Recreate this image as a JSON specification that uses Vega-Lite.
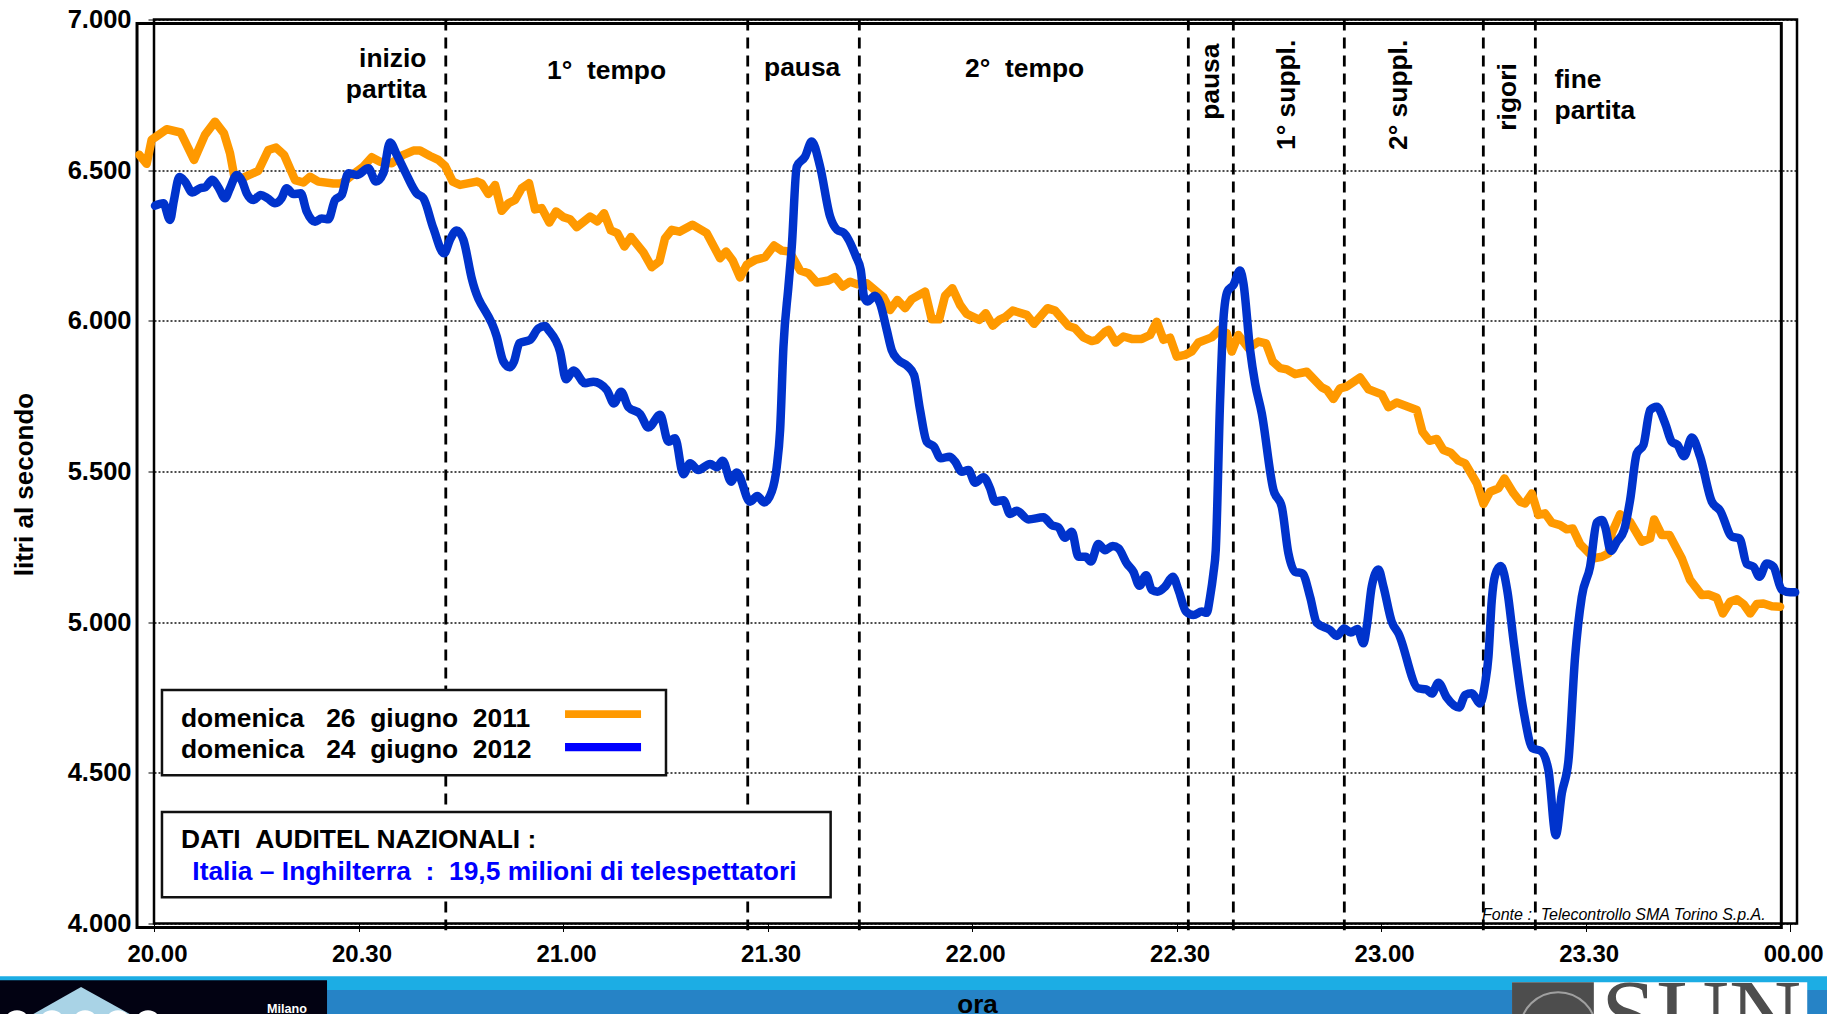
{"$schema":"https://vega.github.io/schema/vega-lite/v6.json","width":1643,"height":904,"autosize":{"type":"none"},"padding":{"left":154,"top":19.5,"right":30,"bottom":90.5},"background":"#ffffff","config":{"view":{"stroke":null},"font":"Liberation Sans","text":{"font":"Liberation Sans"}},
"datasets":{
"band":[{"t":-22.59,"t2":245.4,"v":3825,"v2":3779,"part":"light"},{"t":-22.59,"t2":245.4,"v":3779,"v2":3699,"part":"dark"}],
"frames":[{"t":-2.49,"t2":238.7,"v":6987,"v2":3987,"w":"a"}],
"frameB":[{"t":0,"t2":241,"v":7000,"v2":4000}],
"events":[{"t":42.8,"v":7000,"v2":3978},{"t":87.09,"v":7000,"v2":3978},{"t":103.46,"v":7000,"v2":3978},{"t":151.72,"v":7000,"v2":3978},{"t":158.32,"v":7000,"v2":3978},{"t":174.6,"v":7000,"v2":3978},{"t":194.99,"v":7000,"v2":3978},{"t":202.62,"v":7000,"v2":3978}],
"orange":[{"t":-2.15,"v":6551},{"t":-1.08,"v":6521},{"t":-0.34,"v":6601},{"t":1.86,"v":6636},{"t":3.91,"v":6625},{"t":5.87,"v":6534},{"t":7.48,"v":6617},{"t":8.95,"v":6661},{"t":10.27,"v":6622},{"t":11.15,"v":6556},{"t":11.74,"v":6484},{"t":12.86,"v":6473},{"t":15.31,"v":6498},{"t":16.77,"v":6567},{"t":17.9,"v":6575},{"t":19.07,"v":6551},{"t":20.69,"v":6467},{"t":21.91,"v":6459},{"t":22.89,"v":6478},{"t":24.11,"v":6462},{"t":26.31,"v":6456},{"t":27.53,"v":6456},{"t":29.73,"v":6495},{"t":30.71,"v":6512},{"t":31.93,"v":6543},{"t":33.16,"v":6528},{"t":34.87,"v":6523},{"t":36.58,"v":6551},{"t":38.05,"v":6565},{"t":39.02,"v":6565},{"t":40.49,"v":6547},{"t":41.71,"v":6534},{"t":42.69,"v":6514},{"t":43.82,"v":6462},{"t":44.89,"v":6451},{"t":47.34,"v":6462},{"t":48.07,"v":6456},{"t":49.05,"v":6421},{"t":50.03,"v":6451},{"t":51,"v":6365},{"t":51.98,"v":6390},{"t":52.96,"v":6401},{"t":53.94,"v":6440},{"t":55.01,"v":6457},{"t":55.89,"v":6370},{"t":56.87,"v":6374},{"t":57.99,"v":6326},{"t":58.97,"v":6363},{"t":60.05,"v":6344},{"t":61.03,"v":6337},{"t":62.01,"v":6311},{"t":63.96,"v":6346},{"t":65.04,"v":6330},{"t":66.02,"v":6357},{"t":67,"v":6300},{"t":67.97,"v":6291},{"t":69,"v":6247},{"t":69.98,"v":6278},{"t":71.79,"v":6227},{"t":73.01,"v":6178},{"t":74.13,"v":6197},{"t":74.96,"v":6274},{"t":75.94,"v":6302},{"t":77.07,"v":6296},{"t":78.97,"v":6319},{"t":81.08,"v":6291},{"t":83.03,"v":6208},{"t":83.91,"v":6230},{"t":84.89,"v":6200},{"t":85.97,"v":6144},{"t":86.95,"v":6186},{"t":88.17,"v":6202},{"t":89.63,"v":6211},{"t":90.95,"v":6250},{"t":92.08,"v":6233},{"t":93.2,"v":6230},{"t":94.77,"v":6167},{"t":95.99,"v":6158},{"t":97.21,"v":6127},{"t":98.92,"v":6134},{"t":99.9,"v":6145},{"t":101.03,"v":6114},{"t":102.1,"v":6130},{"t":103.18,"v":6121},{"t":104.55,"v":6125},{"t":106.99,"v":6078},{"t":107.97,"v":6036},{"t":109.04,"v":6069},{"t":110.17,"v":6042},{"t":111.15,"v":6072},{"t":113.1,"v":6097},{"t":114.08,"v":6005},{"t":115.16,"v":6005},{"t":116.04,"v":6083},{"t":117.11,"v":6108},{"t":118.24,"v":6053},{"t":119.22,"v":6023},{"t":121.07,"v":6003},{"t":122,"v":6025},{"t":123.03,"v":5984},{"t":124.11,"v":6005},{"t":124.84,"v":6012},{"t":125.96,"v":6034},{"t":128.02,"v":6020},{"t":129.09,"v":5990},{"t":131.05,"v":6042},{"t":132.17,"v":6034},{"t":134.13,"v":5983},{"t":135.11,"v":5975},{"t":136.33,"v":5945},{"t":137.55,"v":5933},{"t":138.29,"v":5937},{"t":139.51,"v":5964},{"t":140,"v":5970},{"t":141.07,"v":5928},{"t":142.2,"v":5948},{"t":143.42,"v":5940},{"t":144.89,"v":5940},{"t":146.11,"v":5953},{"t":147.09,"v":5997},{"t":148.07,"v":5937},{"t":149.04,"v":5944},{"t":150.02,"v":5881},{"t":151.25,"v":5887},{"t":152.22,"v":5898},{"t":153.2,"v":5928},{"t":155.15,"v":5945},{"t":156.28,"v":5970},{"t":157.35,"v":5959},{"t":158.09,"v":5898},{"t":159.06,"v":5953},{"t":160.53,"v":5909},{"t":162,"v":5931},{"t":163.12,"v":5925},{"t":164.1,"v":5865},{"t":165.18,"v":5843},{"t":166.16,"v":5839},{"t":167.38,"v":5823},{"t":169.09,"v":5831},{"t":171.29,"v":5779},{"t":172.02,"v":5771},{"t":173,"v":5741},{"t":173.98,"v":5776},{"t":174.96,"v":5782},{"t":176.91,"v":5812},{"t":178.14,"v":5773},{"t":180.09,"v":5756},{"t":181.07,"v":5713},{"t":182.29,"v":5729},{"t":185.23,"v":5704},{"t":186.06,"v":5632},{"t":187.08,"v":5602},{"t":188.16,"v":5608},{"t":189.14,"v":5571},{"t":190.21,"v":5562},{"t":191.34,"v":5536},{"t":192.32,"v":5527},{"t":194.03,"v":5461},{"t":195.01,"v":5392},{"t":195.98,"v":5433},{"t":197.21,"v":5444},{"t":198.09,"v":5477},{"t":199.41,"v":5428},{"t":200.38,"v":5400},{"t":201.12,"v":5394},{"t":202.1,"v":5427},{"t":203.07,"v":5356},{"t":204.05,"v":5361},{"t":205.03,"v":5330},{"t":206.25,"v":5322},{"t":207.23,"v":5308},{"t":208.11,"v":5311},{"t":209.19,"v":5259},{"t":211.24,"v":5212},{"t":212.37,"v":5217},{"t":213.34,"v":5228},{"t":213.83,"v":5295},{"t":215.06,"v":5358},{"t":216.52,"v":5333},{"t":218.23,"v":5267},{"t":219.46,"v":5278},{"t":220.04,"v":5341},{"t":221.17,"v":5289},{"t":222.29,"v":5289},{"t":224.1,"v":5212},{"t":225.32,"v":5140},{"t":227.04,"v":5090},{"t":228.01,"v":5092},{"t":229.24,"v":5081},{"t":230.12,"v":5029},{"t":231.19,"v":5068},{"t":232.17,"v":5076},{"t":233.15,"v":5060},{"t":234.13,"v":5029},{"t":235.11,"v":5060},{"t":236.08,"v":5062},{"t":237.31,"v":5053},{"t":238.53,"v":5051}],
"blue":[{"t":0.15,"v":6382},{"t":1.37,"v":6390},{"t":2.35,"v":6335},{"t":2.93,"v":6401},{"t":3.72,"v":6477},{"t":4.55,"v":6462},{"t":5.62,"v":6426},{"t":6.75,"v":6440},{"t":7.48,"v":6443},{"t":8.56,"v":6468},{"t":9.44,"v":6443},{"t":10.42,"v":6407},{"t":11.15,"v":6440},{"t":12.13,"v":6484},{"t":12.96,"v":6462},{"t":13.6,"v":6423},{"t":14.57,"v":6401},{"t":15.65,"v":6418},{"t":16.63,"v":6407},{"t":17.75,"v":6390},{"t":18.73,"v":6407},{"t":19.46,"v":6440},{"t":20.44,"v":6421},{"t":21.52,"v":6423},{"t":22.4,"v":6363},{"t":23.62,"v":6329},{"t":24.6,"v":6340},{"t":25.58,"v":6337},{"t":26.55,"v":6401},{"t":27.53,"v":6418},{"t":28.51,"v":6490},{"t":29.73,"v":6484},{"t":31.44,"v":6506},{"t":32.57,"v":6462},{"t":33.64,"v":6490},{"t":34.62,"v":6592},{"t":35.6,"v":6551},{"t":36.82,"v":6495},{"t":38.53,"v":6423},{"t":39.51,"v":6407},{"t":40.98,"v":6307},{"t":42.55,"v":6224},{"t":43.42,"v":6269},{"t":44.4,"v":6300},{"t":45.38,"v":6269},{"t":46.6,"v":6141},{"t":50.27,"v":5948},{"t":51.25,"v":5865},{"t":52.23,"v":5846},{"t":52.81,"v":5865},{"t":53.6,"v":5926},{"t":55.16,"v":5937},{"t":56.38,"v":5975},{"t":57.36,"v":5983},{"t":57.85,"v":5970},{"t":59.56,"v":5898},{"t":60.44,"v":5806},{"t":61.52,"v":5835},{"t":63.23,"v":5793},{"t":64.45,"v":5798},{"t":66.41,"v":5771},{"t":67.48,"v":5726},{"t":68.51,"v":5765},{"t":69.59,"v":5713},{"t":71.3,"v":5691},{"t":72.52,"v":5646},{"t":74.23,"v":5688},{"t":75.45,"v":5599},{"t":76.43,"v":5610},{"t":77.65,"v":5491},{"t":78.63,"v":5527},{"t":79.85,"v":5505},{"t":81.57,"v":5525},{"t":82.55,"v":5514},{"t":83.42,"v":5536},{"t":84.65,"v":5466},{"t":85.48,"v":5497},{"t":87.43,"v":5400},{"t":88.51,"v":5419},{"t":89.49,"v":5397},{"t":90.61,"v":5433},{"t":91.35,"v":5516},{"t":91.84,"v":5638},{"t":92.33,"v":5914},{"t":93.06,"v":6114},{"t":93.55,"v":6246},{"t":94.28,"v":6512},{"t":95.5,"v":6545},{"t":96.48,"v":6595},{"t":97.7,"v":6512},{"t":99.17,"v":6346},{"t":100.2,"v":6302},{"t":101.2,"v":6292},{"t":102.98,"v":6213},{"t":103.67,"v":6169},{"t":104.15,"v":6080},{"t":104.64,"v":6064},{"t":105.77,"v":6083},{"t":106.5,"v":6058},{"t":107.48,"v":5970},{"t":108.21,"v":5903},{"t":109.19,"v":5870},{"t":110.51,"v":5850},{"t":111.49,"v":5820},{"t":112.37,"v":5704},{"t":113.35,"v":5599},{"t":114.42,"v":5582},{"t":115.4,"v":5544},{"t":116.67,"v":5549},{"t":117.5,"v":5533},{"t":118.48,"v":5499},{"t":119.46,"v":5505},{"t":120.44,"v":5463},{"t":121.66,"v":5481},{"t":122.64,"v":5444},{"t":123.37,"v":5400},{"t":124.6,"v":5405},{"t":125.57,"v":5359},{"t":126.55,"v":5370},{"t":128.26,"v":5341},{"t":130.46,"v":5348},{"t":131.69,"v":5322},{"t":132.66,"v":5315},{"t":133.64,"v":5280},{"t":134.62,"v":5300},{"t":135.6,"v":5217},{"t":136.67,"v":5217},{"t":137.41,"v":5201},{"t":138.53,"v":5259},{"t":139.51,"v":5239},{"t":140.63,"v":5253},{"t":141.47,"v":5245},{"t":142.69,"v":5195},{"t":143.67,"v":5167},{"t":144.55,"v":5121},{"t":145.52,"v":5156},{"t":146.36,"v":5107},{"t":147.19,"v":5101},{"t":148.31,"v":5118},{"t":149.44,"v":5151},{"t":150.27,"v":5107},{"t":151.39,"v":5035},{"t":152.47,"v":5024},{"t":153.69,"v":5035},{"t":154.42,"v":5031},{"t":154.91,"v":5084},{"t":155.4,"v":5162},{"t":155.74,"v":5239},{"t":156.38,"v":5737},{"t":156.86,"v":6003},{"t":157.45,"v":6097},{"t":158.33,"v":6119},{"t":159.31,"v":6167},{"t":159.8,"v":6125},{"t":160.78,"v":5903},{"t":161.51,"v":5793},{"t":162.49,"v":5693},{"t":164.2,"v":5439},{"t":165.42,"v":5383},{"t":166.4,"v":5228},{"t":167.38,"v":5167},{"t":168.45,"v":5162},{"t":169.58,"v":5084},{"t":170.56,"v":4998},{"t":172.51,"v":4974},{"t":173.49,"v":4954},{"t":174.57,"v":4979},{"t":175.54,"v":4966},{"t":176.52,"v":4977},{"t":177.4,"v":4930},{"t":177.89,"v":4985},{"t":178.62,"v":5118},{"t":179.6,"v":5175},{"t":180.34,"v":5118},{"t":181.56,"v":5001},{"t":182.54,"v":4963},{"t":185.47,"v":4780},{"t":186.6,"v":4777},{"t":187.43,"v":4763},{"t":188.4,"v":4799},{"t":189.63,"v":4750},{"t":191.44,"v":4717},{"t":192.32,"v":4758},{"t":193.29,"v":4764},{"t":194.52,"v":4730},{"t":195.25,"v":4797},{"t":195.74,"v":4885},{"t":196.23,"v":5073},{"t":196.72,"v":5156},{"t":197.55,"v":5186},{"t":198.53,"v":5101},{"t":199.41,"v":4941},{"t":200.87,"v":4708},{"t":202.24,"v":4581},{"t":203.42,"v":4573},{"t":204.54,"v":4509},{"t":205.62,"v":4293},{"t":206.5,"v":4432},{"t":207.48,"v":4542},{"t":208.45,"v":4885},{"t":209.43,"v":5084},{"t":210.65,"v":5184},{"t":211.63,"v":5330},{"t":212.37,"v":5339},{"t":212.85,"v":5317},{"t":213.69,"v":5237},{"t":214.57,"v":5267},{"t":215.64,"v":5306},{"t":216.52,"v":5405},{"t":217.5,"v":5560},{"t":218.48,"v":5588},{"t":219.46,"v":5704},{"t":220.43,"v":5715},{"t":221.66,"v":5660},{"t":222.63,"v":5599},{"t":223.47,"v":5588},{"t":224.44,"v":5551},{"t":225.57,"v":5613},{"t":226.79,"v":5549},{"t":228.5,"v":5400},{"t":229.73,"v":5370},{"t":231.44,"v":5284},{"t":232.56,"v":5278},{"t":233.64,"v":5193},{"t":234.62,"v":5184},{"t":235.49,"v":5151},{"t":236.57,"v":5195},{"t":237.55,"v":5184},{"t":238.77,"v":5107},{"t":240,"v":5099},{"t":240.73,"v":5099}],
"boxes":[{"t":1.17,"t2":75.1,"v":4775,"v2":4492},{"t":1.17,"t2":99.25,"v":4370,"v2":4087}],
"swatches":[{"t":60.29,"t2":71.44,"v":4708,"v2":4682,"part":"2011"},{"t":60.29,"t2":71.44,"v":4599,"v2":4572,"part":"2012"}],
"notesLeft":[{"t":57.65,"v":6804,"label":"1°\u00a0\u00a0tempo"},{"t":89.48,"v":6813,"label":"pausa"},{"t":118.97,"v":6808,"label":"2°\u00a0\u00a0tempo"},{"t":205.44,"v":6774,"label":"fine"},{"t":205.44,"v":6670,"label":"partita"},{"t":3.96,"v":4653,"label":"domenica\u00a0\u00a0\u00a026\u00a0\u00a0giugno\u00a0\u00a02011"},{"t":3.96,"v":4549,"label":"domenica\u00a0\u00a0\u00a024\u00a0\u00a0giugno\u00a0\u00a02012"},{"t":3.96,"v":4251,"label":"DATI\u00a0\u00a0AUDITEL NAZIONALI :"}],
"notesRight":[{"t":39.97,"v":6844,"label":"inizio"},{"t":39.97,"v":6740,"label":"partita"}],
"notesRot":[{"t":156.2,"v":6667,"label":"pausa"},{"t":167.4,"v":6567,"label":"1° suppl."},{"t":183.8,"v":6567,"label":"2° suppl."},{"t":199.8,"v":6631,"label":"rigori"}],
"noteBlue":[{"t":5.62,"v":4144,"label":"Italia – Inghilterra\u00a0\u00a0:\u00a0\u00a019,5 milioni di telespettatori"}],
"source":[{"t":194.8,"v":4013,"label":"Fonte :\u00a0\u00a0Telecontrollo SMA Torino S.p.A."}],
"logoL":[{"t":-22.59,"t2":25.38,"v":3812,"v2":3699}],
"roof":[{"t":-17.75,"v":3699,"v2":3699},{"t":-10.7,"v":3789,"v2":3699},{"t":-3.5,"v":3699,"v2":3699}],
"dots":[{"t":-20.1,"v":3669},{"t":-14.96,"v":3669},{"t":-10.1,"v":3669},{"t":-5.28,"v":3669},{"t":-0.88,"v":3669}],
"milano":[{"t":19.5,"v":3703,"label":"Milano"}],
"logoR":[{"t":199.2,"t2":242.5,"v":3805,"v2":3699}],
"logoRs":[{"t":199.2,"t2":211.2,"v":3805,"v2":3699}],
"seal":[{"t":205.96,"v":3646}],
"sun":[{"t":212.26,"v":3586,"label":"SUN"}]
},
"encoding":{
"x":{"field":"t","type":"quantitative","scale":{"domain":[0,241],"nice":false,"zero":false},"axis":{"values":[0,30,60,90,120,150,180,210,240],"labelExpr":"format((20+floor(datum.value/60))%24,'02d')+'.'+format(datum.value%60,'02d')","title":"ora","titleFont":"Liberation Sans","titleFontSize":26,"titleFontWeight":"bold","titleColor":"#000000","titleX":823,"titleY":88.5,"titleAnchor":null,"titleAlign":"center","titleBaseline":"alphabetic","labelFont":"Liberation Sans","labelFontSize":24,"labelFontWeight":"bold","labelColor":"#000000","labelOffset":3,"labelPadding":11,"labelFlush":false,"labelOverlap":false,"tickColor":"#000000","tickSize":8,"tickWidth":1,"domain":false,"grid":false,"zindex":1}},
"y":{"field":"v","type":"quantitative","scale":{"domain":[4000,7000],"nice":false,"zero":false},"axis":{"values":[4000,4500,5000,5500,6000,6500,7000],"labelExpr":"replace(format(datum.value,','),',','.')","title":"litri al secondo","titleFont":"Liberation Sans","titleFontSize":26,"titleFontWeight":"bold","titleColor":"#000000","titleX":-122,"titleY":464.5,"titleAngle":-90,"titleAlign":"center","titleBaseline":"alphabetic","labelFont":"Liberation Sans","labelFontSize":25.5,"labelFontWeight":"bold","labelColor":"#000000","labelPadding":17,"labelOverlap":false,"tickColor":"#000000","tickSize":6,"tickWidth":1,"domain":false,"grid":true,"gridColor":"#111111","gridDash":[2,2],"gridWidth":1.3,"gridOpacity":1}}
},
"layer":[
{"data":{"name":"band"},"mark":{"type":"rect"},"encoding":{"x2":{"field":"t2"},"y2":{"field":"v2"},"color":{"field":"part","type":"nominal","scale":{"domain":["light","dark","2011","2012"],"range":["#1CADE4","#2683C6","#FF9900","#0000FF"]},"legend":null}}},
{"data":{"name":"logoL"},"mark":{"type":"rect","color":"#020212"},"encoding":{"x2":{"field":"t2"},"y2":{"field":"v2"}}},
{"data":{"name":"roof"},"mark":{"type":"area","color":"#A9D3E6"},"encoding":{"y2":{"field":"v2"}}},
{"data":{"name":"dots"},"mark":{"type":"point","shape":"circle","filled":true,"color":"#FFFFFF","opacity":1,"size":676}},
{"data":{"name":"milano"},"mark":{"type":"text","align":"center","baseline":"alphabetic","font":"Liberation Sans","fontWeight":"bold","fontSize":12.6,"color":"#FFFFFF"},"encoding":{"text":{"field":"label"}}},
{"data":{"name":"logoR"},"mark":{"type":"rect","color":"#FFFFFF"},"encoding":{"x2":{"field":"t2"},"y2":{"field":"v2"}}},
{"data":{"name":"logoRs"},"mark":{"type":"rect","color":"#4D4D4D"},"encoding":{"x2":{"field":"t2"},"y2":{"field":"v2"}}},
{"data":{"name":"seal"},"mark":{"type":"point","shape":"circle","filled":false,"stroke":"#A0A0A0","strokeWidth":2,"opacity":1,"size":5776}},
{"data":{"name":"sun"},"mark":{"type":"text","align":"left","baseline":"alphabetic","font":"Liberation Serif","fontSize":100,"color":"#4D4D4D"},"encoding":{"text":{"field":"label"}}},
{"data":{"name":"frames"},"mark":{"type":"rect","fillOpacity":0,"stroke":"#000000","strokeWidth":3},"encoding":{"x2":{"field":"t2"},"y2":{"field":"v2"}}},
{"data":{"name":"frameB"},"mark":{"type":"rect","fillOpacity":0,"stroke":"#000000","strokeWidth":2.5},"encoding":{"x2":{"field":"t2"},"y2":{"field":"v2"}}},
{"data":{"name":"events"},"mark":{"type":"rule","color":"#000000","strokeWidth":2.8,"strokeDash":[11,7]},"encoding":{"y2":{"field":"v2"}}},
{"data":{"name":"orange"},"mark":{"type":"line","color":"#FF9900","strokeWidth":8.5,"strokeJoin":"round","strokeCap":"round"}},
{"data":{"name":"blue"},"mark":{"type":"line","color":"#0033CC","strokeWidth":8.5,"interpolate":"monotone","strokeJoin":"round","strokeCap":"round"}},
{"data":{"name":"boxes"},"mark":{"type":"rect","color":"#FFFFFF","stroke":"#111111","strokeWidth":2.5},"encoding":{"x2":{"field":"t2"},"y2":{"field":"v2"}}},
{"data":{"name":"swatches"},"mark":{"type":"rect"},"encoding":{"x2":{"field":"t2"},"y2":{"field":"v2"},"color":{"field":"part","type":"nominal","legend":null}}},
{"data":{"name":"notesLeft"},"mark":{"type":"text","align":"left","baseline":"alphabetic","font":"Liberation Sans","fontWeight":"bold","fontSize":26.4,"color":"#000000"},"encoding":{"text":{"field":"label"}}},
{"data":{"name":"notesRight"},"mark":{"type":"text","align":"right","baseline":"alphabetic","font":"Liberation Sans","fontWeight":"bold","fontSize":26.4,"color":"#000000"},"encoding":{"text":{"field":"label"}}},
{"data":{"name":"notesRot"},"mark":{"type":"text","align":"left","baseline":"alphabetic","angle":270,"font":"Liberation Sans","fontWeight":"bold","fontSize":26.4,"color":"#000000"},"encoding":{"text":{"field":"label"}}},
{"data":{"name":"noteBlue"},"mark":{"type":"text","align":"left","baseline":"alphabetic","font":"Liberation Sans","fontWeight":"bold","fontSize":26.4,"color":"#0000FF"},"encoding":{"text":{"field":"label"}}},
{"data":{"name":"source"},"mark":{"type":"text","align":"left","baseline":"alphabetic","font":"Liberation Sans","fontStyle":"italic","fontSize":16,"color":"#000000"},"encoding":{"text":{"field":"label"}}}
]}
